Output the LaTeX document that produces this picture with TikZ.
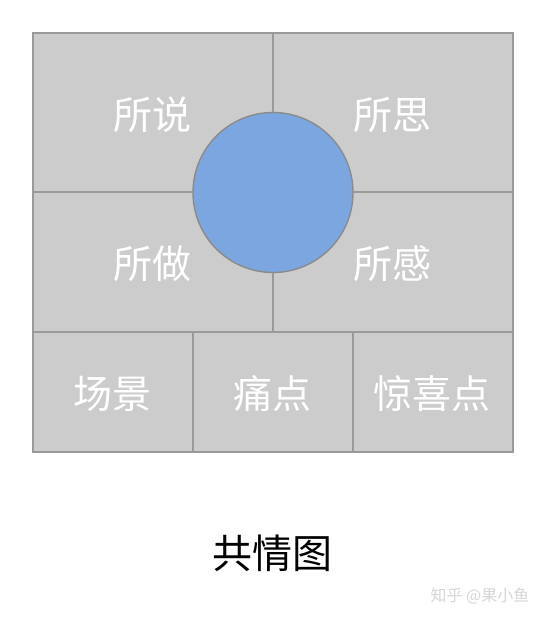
\documentclass[tikz,border=0pt]{standalone}
\usepackage{fontspec}
\newfontfamily\cjk{Noto Sans CJK SC}
\definecolor{cellgray}{HTML}{CCCCCC}
\definecolor{edgegray}{HTML}{9A9A9A}
\definecolor{centreblue}{HTML}{7BA6E0}
\definecolor{markgray}{HTML}{D6D6D6}
\tikzset{
  cell/.style={text=white,font=\cjk\fontsize{39}{42}\selectfont},
  grid/.style={draw=edgegray,line width=1.4pt}
}
\begin{document}
\begin{tikzpicture}[x=1pt,y=-1pt]
\useasboundingbox[fill=white] (0,0) rectangle (546,620);
\fill[cellgray] (33,33) rectangle (513,452);
\draw[grid] (33,33) rectangle (513,452);
\draw[grid] (33,192) -- (513,192);
\draw[grid] (33,332) -- (513,332);
\draw[grid] (273,33) -- (273,332);
\draw[grid] (193,332) -- (193,452);
\draw[grid] (353,332) -- (353,452);
\draw[draw=edgegray!90!black,line width=1.4pt,fill=centreblue] (273,192.5) circle (80);
\node[cell] (said) at (152,115) {所说};
\node[cell] (thought) at (392,115) {所思};
\node[cell] (did) at (152,264) {所做};
\node[cell] (felt) at (392,264) {所感};
\node[cell] (scene) at (112,394) {场景};
\node[cell] (pain) at (272,394) {痛点};
\node[cell] (delight) at (432,394) {惊喜点};
\node[font=\cjk\fontsize{40}{42}\selectfont] (title) at (272,553) {共情图};
\node[text=markgray,font=\cjk\fontsize{16}{18}\selectfont] (mark) at (480,596) {知乎 @果小鱼};
\end{tikzpicture}
\end{document}
